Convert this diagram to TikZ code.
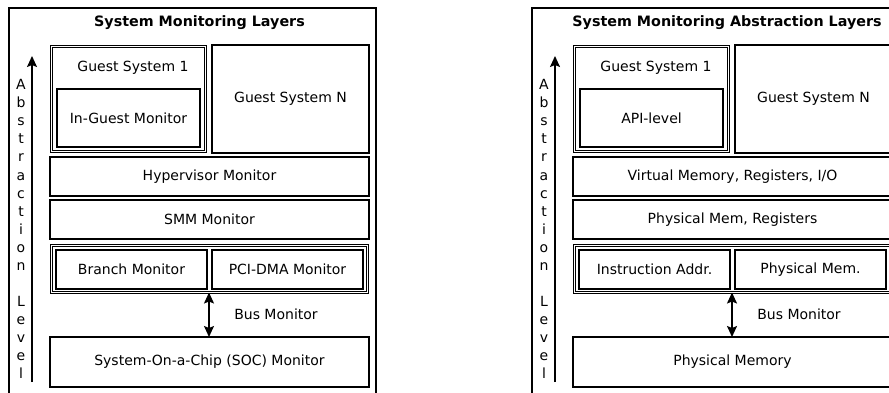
\documentclass[tikz,border=0pt]{standalone}
\usepackage{fontspec}
\setmainfont{DejaVu Sans}
\usetikzlibrary{arrows.meta}
\tikzset{
  box/.style={draw, line width=1.5pt, inner sep=0pt, outer sep=0pt, font=\fontsize{14}{16}\selectfont},
  dbl/.style={draw, double, double distance=1.3pt, line width=1.1pt, inner sep=0pt, outer sep=0pt},
  framebox/.style={draw, line width=1.4pt, inner sep=0pt, outer sep=0pt},
  txt/.style={inner sep=0pt, font=\fontsize{14}{16}\selectfont},
  ttl/.style={inner sep=0pt, font=\fontsize{14.3}{16}\selectfont\bfseries},
  letter/.style={inner sep=0pt, anchor=base, font=\fontsize{14}{16}\selectfont},
  tip/.style={-{Stealth[length=11pt,width=10pt,inset=2pt]}, line width=1.5pt},
  bitip/.style={{Stealth[length=11pt,width=10pt,inset=2pt]}-{Stealth[length=11pt,width=10pt,inset=2pt]}, line width=1.5pt}
}
\newcommand\monpanel[9]{%
  \node[framebox, minimum width=367pt, minimum height=392pt] (#1frame) at (192.5,204) {};
  \node[ttl] (#1title) at (#3,23) {#2};
  \coordinate (#1abot) at (32,382);
  \coordinate (#1atop) at (32,56);
  \draw[tip] (#1abot) -- (#1atop);
  \foreach \ch [count=\i from 0] in {A,b,s,t,r,a,c,t,i,o,n}
    \node[letter] (#1l\i) at (21,90+18*\i) {\ch};
  \foreach \ch [count=\i from 12] in {L,e,v,e,l}
    \node[letter] (#1l\i) at (21,90+18*\i) {\ch};
  \node[dbl, minimum width=154pt, minimum height=105pt] (#1gone) at (128.5,99) {};
  \node[txt] (#1gonet) at (133,68) {Guest System 1};
  \node[box, minimum width=143pt, minimum height=58pt] (#1inner) at (128.5,118) {#4};
  \node[box, minimum width=157pt, minimum height=108pt] (#1gn) at (290.5,99) {};
  \node[txt] (#1gnt) at (290.5,99) {Guest System N};
  \node[box, minimum width=319pt, minimum height=39pt] (#1hyp) at (209.5,176.5) {#5};
  \node[box, minimum width=319pt, minimum height=39pt] (#1smm) at (209.5,219.5) {#6};
  \node[dbl, minimum width=316pt, minimum height=47pt] (#1grp) at (209.5,269) {};
  \node[box, minimum width=151pt, minimum height=39pt] (#1left) at (131.5,269.5) {#7};
  \node[box, minimum width=151pt, minimum height=39pt] (#1right) at (287.5,269.5) {#8};
  \node[box, minimum width=319pt, minimum height=50pt] (#1soc) at (209.5,362) {#9};
  \draw[bitip] (#1grp.south -| 209,0) -- (#1soc.north -| 209,0);
  \node[txt] (#1bus) at (276,314) {Bus Monitor};
}
\begin{document}
\begin{tikzpicture}[x=1pt,y=-1pt]
\useasboundingbox (0,0) rectangle (889,393);
\clip (0,0) rectangle (889,393);
\begin{scope}
\monpanel{a}{System Monitoring Layers}{199.5}{In-Guest Monitor}{Hypervisor Monitor}{SMM Monitor}{Branch Monitor}{PCI-DMA Monitor}{System-On-a-Chip (SOC) Monitor}
\end{scope}
\begin{scope}[xshift=523pt]
\monpanel{b}{System Monitoring Abstraction Layers}{204}{API-level}{Virtual Memory, Registers, I/O}{Physical Mem, Registers}{Instruction Addr.}{Physical Mem.}{Physical Memory}
\end{scope}
\end{tikzpicture}
\end{document}
